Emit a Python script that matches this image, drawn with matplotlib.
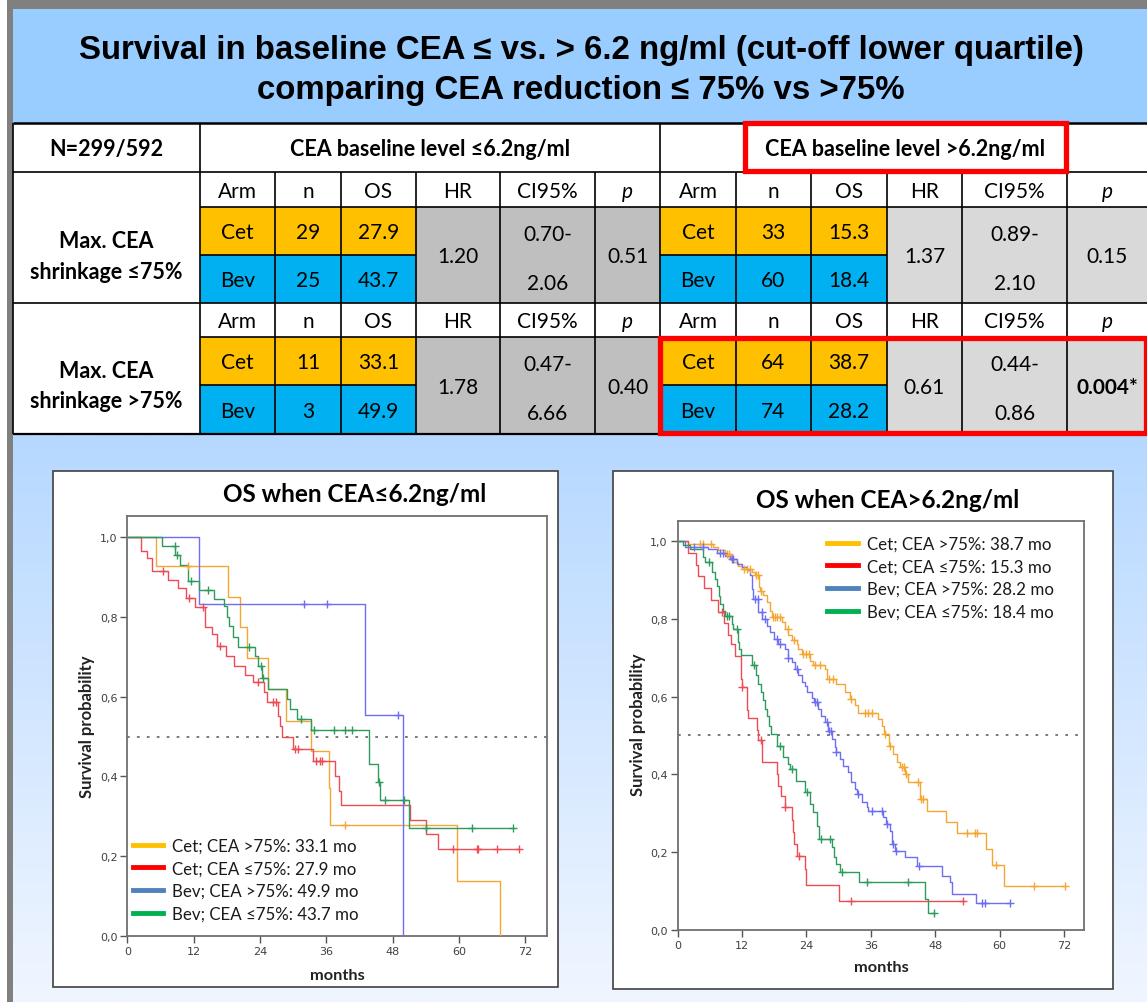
import numpy as np
import matplotlib
matplotlib.use("Agg")
import matplotlib.pyplot as plt
from matplotlib.patches import Rectangle
from matplotlib.lines import Line2D
from matplotlib.ticker import FuncFormatter

# ---------------- table data ----------------
arms = ["Cet", "Bev"]
col_headers = ["Arm", "n", "OS", "HR", "CI95%", "p"]
n_low_shr_le = [29, 25]
os_low_shr_le = [27.9, 43.7]
n_low_shr_gt = [11, 3]
os_low_shr_gt = [33.1, 49.9]
n_high_shr_le = [33, 60]
os_high_shr_le = [15.3, 18.4]
n_high_shr_gt = [64, 74]
os_high_shr_gt = [38.7, 28.2]
hr_low = ["1.20", "1.78"]
hr_high = ["1.37", "0.61"]
ci_low = [("0.70-", "2.06"), ("0.47-", "6.66")]
ci_high = [("0.89-", "2.10"), ("0.44-", "0.86")]
p_low = ["0.51", "0.40"]
p_high = ["0.15", "0.004*"]

# ---------------- KM data: left panel (CEA <= 6.2) ----------------
L_cet_gt_t = [0, 5.1, 18.3, 20.3, 21.6, 25.5, 28.7, 33.2, 36.4, 36.7, 59.6, 67.4]
L_cet_gt_s = [1.0, 0.928, 0.851, 0.774, 0.696, 0.619, 0.540, 0.464, 0.370, 0.278, 0.139, 0.0]
L_cet_gt_c = [10.9, 39.4]
L_cet_gt_end = 67.4

L_cet_le_t = [0, 2.4, 3.6, 4.4, 7.3, 9.2, 10.6, 12.2, 14.0, 15.3, 16.2, 17.8, 19.3, 21.3, 22.8,
              24.7, 25.2, 27.3, 27.7, 28.0, 29.9, 33.5, 37.6, 38.3, 38.7, 51.1, 54.1, 56.2]
L_cet_le_s = [1.0, 0.966, 0.948, 0.914, 0.893, 0.872, 0.848, 0.824, 0.774, 0.757, 0.728, 0.703,
              0.678, 0.654, 0.636, 0.611, 0.586, 0.552, 0.527, 0.498, 0.469, 0.439, 0.402, 0.364,
              0.328, 0.292, 0.256, 0.218]
L_cet_le_c = [6.5, 11.2, 13.6, 16.8, 23.6, 26.3, 26.9, 30.4, 30.9, 34.2, 34.8, 35.3,
              58.9, 63.2, 63.5, 66.9, 70.9]
L_cet_le_end = 70.9

L_bev_gt_t = [0, 13.0, 42.9, 49.9]
L_bev_gt_s = [1.0, 0.833, 0.554, 0.0]
L_bev_gt_c = [32.0, 36.2, 49.0]
L_bev_gt_end = 49.9

L_bev_le_t = [0, 6.2, 8.7, 9.6, 11.0, 13.0, 15.7, 17.4, 18.0, 18.4, 19.2, 20.1, 23.1, 23.7, 24.3,
              25.5, 28.8, 29.4, 30.6, 33.2, 43.8, 45.4, 45.7, 51.0]
L_bev_le_s = [1.0, 0.978, 0.955, 0.930, 0.890, 0.868, 0.845, 0.828, 0.800, 0.778, 0.749, 0.724,
              0.703, 0.677, 0.648, 0.620, 0.595, 0.570, 0.543, 0.517, 0.430, 0.385, 0.340, 0.270]
L_bev_le_c = [8.6, 9.0, 11.6, 14.6, 22.0, 24.1, 24.5, 31.4, 33.7, 37.3, 39.4, 40.6,
              45.6, 46.6, 50.0, 54.0, 62.3, 69.8]
L_bev_le_end = 69.8

# ---------------- KM data: right panel (CEA > 6.2) ----------------
R_cet_gt_t = [0, 2.0, 6.7, 7.6, 8.8, 10.0, 10.4, 11.3, 12.0, 13.8, 14.4, 15.1, 15.4, 16.0, 16.6,
              17.2, 17.6, 19.4, 20.0, 20.6, 21.3, 22.2, 22.5, 23.1, 24.7, 25.3, 27.5, 27.8, 29.6,
              31.2, 32.1, 33.0, 33.7, 37.4, 38.0, 38.5, 39.3, 40.2, 40.8, 41.5, 42.3, 42.9, 45.2,
              46.4, 50.0, 52.1, 57.5, 58.5, 60.8]
R_cet_gt_s = [1.0, 0.993, 0.984, 0.976, 0.967, 0.952, 0.945, 0.936, 0.928, 0.919, 0.911, 0.881,
              0.872, 0.860, 0.842, 0.821, 0.805, 0.791, 0.774, 0.757, 0.744, 0.735, 0.722, 0.710,
              0.692, 0.680, 0.671, 0.645, 0.632, 0.611, 0.594, 0.577, 0.557, 0.543, 0.525, 0.504,
              0.474, 0.452, 0.431, 0.418, 0.400, 0.380, 0.337, 0.307, 0.278, 0.249, 0.208, 0.167,
              0.112]
R_cet_gt_c = [4.1, 4.8, 6.2, 9.2, 9.6, 12.3, 12.9, 13.5, 14.6, 14.9, 15.6, 17.8, 18.2, 18.6, 19.1,
              20.5, 21.7, 23.4, 23.9, 24.4, 25.6, 26.5, 28.3, 29.0, 32.4, 34.9, 35.5, 36.2, 38.6,
              39.5, 41.8, 42.1, 42.6, 44.8, 45.4, 45.7, 53.9, 55.4, 55.7, 59.4, 66.3, 72.2]
R_cet_gt_end = 72.2

R_cet_le_t = [0, 2.0, 3.4, 3.9, 4.9, 6.3, 7.5, 8.7, 9.4, 10.0, 10.8, 11.8, 11.9, 12.0, 12.9, 13.0,
              13.1, 14.8, 15.0, 15.7, 15.8, 18.5, 18.8, 19.2, 20.0, 21.3, 21.5, 21.7, 22.2, 23.7,
              23.9, 30.0]
R_cet_le_s = [1.0, 0.970, 0.939, 0.909, 0.879, 0.848, 0.818, 0.788, 0.758, 0.735, 0.705, 0.675,
              0.645, 0.624, 0.590, 0.565, 0.545, 0.515, 0.487, 0.460, 0.431, 0.401, 0.371, 0.345,
              0.315, 0.283, 0.251, 0.221, 0.191, 0.157, 0.116, 0.075]
R_cet_le_c = [8.2, 12.1, 15.5, 20.1, 22.7, 32.4, 53.1]
R_cet_le_end = 53.1

R_bev_gt_t = [0, 1.4, 5.7, 7.3, 8.8, 9.8, 11.0, 12.0, 12.9, 13.5, 13.8, 14.1, 15.0, 15.8, 16.6,
              17.2, 18.0, 18.8, 20.0, 20.5, 21.3, 21.9, 22.5, 23.1, 23.7, 24.1, 25.0, 25.5, 26.2,
              26.8, 27.5, 28.1, 28.7, 29.4, 29.5, 30.3, 30.9, 31.8, 32.4, 33.1, 33.5, 34.3, 35.2,
              35.5, 38.3, 38.8, 39.6, 39.9, 40.5, 42.4, 44.6, 49.2, 50.7, 51.2, 55.6]
R_bev_gt_s = [1.0, 0.985, 0.979, 0.969, 0.960, 0.954, 0.941, 0.932, 0.926, 0.911, 0.877, 0.851,
              0.817, 0.800, 0.782, 0.765, 0.748, 0.735, 0.722, 0.700, 0.688, 0.671, 0.654, 0.637,
              0.628, 0.611, 0.595, 0.585, 0.568, 0.551, 0.534, 0.512, 0.490, 0.470, 0.457, 0.440,
              0.422, 0.405, 0.380, 0.362, 0.350, 0.330, 0.315, 0.307, 0.290, 0.272, 0.255, 0.221,
              0.204, 0.187, 0.165, 0.140, 0.123, 0.093, 0.069]
R_bev_gt_c = [3.0, 4.8, 7.9, 8.5, 10.1, 10.4, 14.4, 14.9, 15.7, 16.3, 18.5, 19.1, 20.6, 22.2,
              25.6, 25.9, 27.8, 28.3, 28.5, 29.6, 33.7, 36.2, 38.0, 39.1, 40.1, 40.7, 44.9,
              56.7, 57.3, 61.9]
R_bev_gt_end = 61.9

R_bev_le_t = [0, 1.1, 2.3, 4.8, 5.1, 6.4, 7.0, 7.3, 7.8, 8.0, 8.4, 8.8, 10.1, 10.4, 11.3, 11.5,
              11.8, 13.8, 14.6, 15.0, 15.5, 15.9, 16.3, 16.6, 17.0, 17.5, 18.5, 19.7, 20.6, 20.9,
              22.1, 23.7, 24.7, 25.3, 25.9, 26.4, 28.7, 29.1, 29.6, 30.3, 33.8, 46.1, 46.7]
R_bev_le_s = [1.0, 0.990, 0.979, 0.958, 0.945, 0.920, 0.902, 0.885, 0.859, 0.838, 0.821, 0.806,
              0.787, 0.774, 0.740, 0.722, 0.707, 0.680, 0.654, 0.632, 0.611, 0.590, 0.568, 0.551,
              0.525, 0.504, 0.474, 0.444, 0.427, 0.414, 0.384, 0.354, 0.324, 0.302, 0.268, 0.234,
              0.213, 0.187, 0.170, 0.150, 0.123, 0.080, 0.043]
R_bev_le_c = [5.9, 9.2, 9.6, 11.0, 14.2, 19.1, 21.4, 24.1, 26.8, 28.4, 30.6, 35.2, 43.0, 47.8]
R_bev_le_end = 47.8

left_labels = ["Cet; CEA >75%: 33.1 mo", "Cet; CEA \u226475%: 27.9 mo",
               "Bev; CEA >75%: 49.9 mo", "Bev; CEA \u226475%: 43.7 mo"]
right_labels = ["Cet; CEA >75%: 38.7 mo", "Cet; CEA \u226475%: 15.3 mo",
                "Bev; CEA >75%: 28.2 mo", "Bev; CEA \u226475%: 18.4 mo"]
x_ticks = [0, 12, 24, 36, 48, 60, 72]
y_ticks = [0.0, 0.2, 0.4, 0.6, 0.8, 1.0]

# ---------------- styles ----------------
curve_cols = ["#F4A833", "#EE4C55", "#6E6EF2", "#2E9A5C"]
legend_cols = ["#FFC000", "#FF0000", "#4F81BD", "#00B050"]
TF = ["Lato", "DejaVu Sans"]
C_CET = "#FFC000"
C_BEV = "#00B0F0"
C_GRAY_L = "#BFBFBF"
C_GRAY_R = "#D9D9D9"

W, H = 1147, 1003
fig = plt.figure(figsize=(W / 100, H / 100), dpi=100)
bg = fig.add_axes([0, 0, 1, 1])
bg.set_xlim(0, W)
bg.set_ylim(H, 0)
bg.axis("off")

# background gradient (lower part)
c_top = np.array([182, 216, 255]) / 255
c_bot = np.array([240, 246, 255]) / 255
g = np.linspace(0, 1, 256)[:, None, None]
grad = c_top[None, None, :] * (1 - g) + c_bot[None, None, :] * g
grad = np.repeat(grad, 2, axis=1)
bg.imshow(grad, extent=[12, W, H, 436], aspect="auto", zorder=0, interpolation="bilinear")

# borders
bg.add_patch(Rectangle((7, 0), W - 7, 10, color="#808080", zorder=1, lw=0))
bg.add_patch(Rectangle((7, 0), 6, H, color="#808080", zorder=1, lw=0))
# title band
bg.add_patch(Rectangle((13, 10), W - 13, 114, color="#99CCFF", zorder=1, lw=0))
bg.text(581, 50, "Survival in baseline CEA \u2264 vs. > 6.2 ng/ml (cut-off lower quartile)",
        ha="center", va="center", fontsize=23.8, fontweight="bold", family="Liberation Sans", zorder=3)
bg.text(581, 90, "comparing CEA reduction \u2264 75% vs >75%",
        ha="center", va="center", fontsize=23.8, fontweight="bold", family="Liberation Sans", zorder=3)

# ---------------- table ----------------
bg.add_patch(Rectangle((13, 124), W - 13, 312, color="white", zorder=1, lw=0))
cols_left = [200, 275, 341, 416, 500, 595, 660]
cols_right = [660, 736, 811, 887, 962, 1067, 1147]
rows = [124, 173, 208, 256, 304, 338, 386, 435]
LW = 1.2
FS = 15
FSB = 15.5


def hline(y, x0, x1, lw=LW):
    bg.plot([x0, x1], [y, y], color="black", lw=lw, zorder=4, solid_capstyle="butt")


def vline(x, y0, y1, lw=LW):
    bg.plot([x, x], [y0, y1], color="black", lw=lw, zorder=4, solid_capstyle="butt")


def cell_text(x, y, s, **kw):
    bg.text(x, y, s, ha="center", va="center", fontsize=FS, family=TF, zorder=5, **kw)


def block(cols, k, n_vals, os_vals, hr, ci, p, gray, p_bold=False):
    yh0, yc0, yb0, ye = rows[1 + 3 * k], rows[2 + 3 * k], rows[3 + 3 * k], rows[4 + 3 * k]
    bg.add_patch(Rectangle((cols[0], yc0), cols[3] - cols[0], yb0 - yc0, color=C_CET, zorder=2, lw=0))
    bg.add_patch(Rectangle((cols[0], yb0), cols[3] - cols[0], ye - yb0, color=C_BEV, zorder=2, lw=0))
    bg.add_patch(Rectangle((cols[3], yc0), cols[6] - cols[3], ye - yc0, color=gray, zorder=2, lw=0))
    for i, h in enumerate(col_headers):
        xc = (cols[i] + cols[i + 1]) / 2
        cell_text(xc, (yh0 + yc0) / 2 + 1, h, style="italic" if h == "p" else "normal")
    ymc = (yc0 + yb0) / 2 + 1
    ymb = (yb0 + ye) / 2 + 1
    for r, yy in enumerate([ymc, ymb]):
        cell_text((cols[0] + cols[1]) / 2, yy, arms[r])
        cell_text((cols[1] + cols[2]) / 2, yy, str(n_vals[r]))
        cell_text((cols[2] + cols[3]) / 2, yy, f"{os_vals[r]:.1f}")
    ymid = (yc0 + ye) / 2 + 1
    cell_text((cols[3] + cols[4]) / 2, ymid, hr)
    cell_text((cols[4] + cols[5]) / 2, ymc + 2, ci[0])
    cell_text((cols[4] + cols[5]) / 2, ymb + 3, ci[1])
    cell_text((cols[5] + cols[6]) / 2, ymid, p, fontweight="bold" if p_bold else "normal")
    hline(yc0, cols[0], cols[6])
    hline(yb0, cols[0], cols[3])
    for x in cols[1:6]:
        vline(x, yh0, ye)


block(cols_left, 0, n_low_shr_le, os_low_shr_le, hr_low[0], ci_low[0], p_low[0], C_GRAY_L)
block(cols_left, 1, n_low_shr_gt, os_low_shr_gt, hr_low[1], ci_low[1], p_low[1], C_GRAY_L)
block(cols_right, 0, n_high_shr_le, os_high_shr_le, hr_high[0], ci_high[0], p_high[0], C_GRAY_R)
block(cols_right, 1, n_high_shr_gt, os_high_shr_gt, hr_high[1], ci_high[1], p_high[1], C_GRAY_R,
      p_bold=True)

hline(124, 13, W, lw=1.8)
hline(173, 13, W)
hline(304, 13, W)
hline(435, 13, W, lw=1.6)
vline(13, 124, 435)
vline(200, 124, 435)
vline(660, 124, 435)

bg.text(106, 149, "N=299/592", ha="center", va="center", fontsize=FSB, fontweight="bold", family=TF, zorder=5)
bg.text(430, 149, "CEA baseline level \u22646.2ng/ml", ha="center", va="center", fontsize=FSB,
        fontweight="bold", family=TF, zorder=5)
bg.text(905, 149, "CEA baseline level >6.2ng/ml", ha="center", va="center", fontsize=FSB,
        fontweight="bold", family=TF, zorder=5)
for yc, lab in [(256, "\u226475%"), (386, ">75%")]:
    bg.text(106, yc - 15, "Max. CEA", ha="center", va="center", fontsize=FSB, fontweight="bold",
            family=TF, zorder=5)
    bg.text(106, yc + 16, "shrinkage " + lab, ha="center", va="center", fontsize=FSB,
            fontweight="bold", family=TF, zorder=5)

# red highlight boxes
bg.add_patch(Rectangle((745, 124), 321, 48, fill=False, ec="#FF0000", lw=3.8, zorder=6))
bg.add_patch(Rectangle((660, 339), 486, 95, fill=False, ec="#FF0000", lw=3.8, zorder=6))

# ---------------- KM panels ----------------
bg.add_patch(Rectangle((53, 472), 505, 516, facecolor="white", edgecolor="#404040", lw=1.2, zorder=2))
bg.add_patch(Rectangle((613, 472), 500, 518, facecolor="white", edgecolor="#404040", lw=1.2, zorder=2))


def px_axes(x0, y0, x1, y1):
    return fig.add_axes([x0 / W, 1 - y1 / H, (x1 - x0) / W, (y1 - y0) / H])


def step_at(ts, ss, c):
    i = np.searchsorted(np.asarray(ts), c, side="right") - 1
    return np.asarray(ss)[i]


def km_panel(ax, curves, xmax, ymax):
    ax.set_facecolor("none")
    for (ts, ss, cs, end), col in zip(curves, curve_cols):
        tt = list(ts) + [end]
        sv = list(ss) + [ss[-1]]
        ax.step(tt, sv, where="post", color=col, lw=1.0, zorder=3)
        cy = [step_at(ts, ss, c) for c in cs]
        ax.plot(cs, cy, ls="none", marker="+", ms=6, mew=1.0, color=col, zorder=4)
    ax.axhline(0.5, color="#707070", ls=(0, (1.5, 4)), lw=1.3, zorder=2)
    ax.set_xlim(0, xmax)
    ax.set_ylim(0, ymax)
    ax.set_xticks(x_ticks)
    ax.set_yticks(y_ticks)
    ax.yaxis.set_major_formatter(FuncFormatter(lambda v, p: f"{v:.1f}".replace(".", ",")))
    ax.tick_params(direction="out", length=5, width=1.0, color="#555555", labelsize=8,
                   labelcolor="#404040", pad=2)
    for sp in ax.spines.values():
        sp.set_color("#707070")
        sp.set_linewidth(1.3)


axL = px_axes(127.3, 517, 547, 937)
km_panel(axL, [(L_cet_gt_t, L_cet_gt_s, L_cet_gt_c, L_cet_gt_end),
               (L_cet_le_t, L_cet_le_s, L_cet_le_c, L_cet_le_end),
               (L_bev_gt_t, L_bev_gt_s, L_bev_gt_c, L_bev_gt_end),
               (L_bev_le_t, L_bev_le_s, L_bev_le_c, L_bev_le_end)], 75.9, 1.053)
axR = px_axes(677.5, 522, 1084, 931)
km_panel(axR, [(R_cet_gt_t, R_cet_gt_s, R_cet_gt_c, R_cet_gt_end),
               (R_cet_le_t, R_cet_le_s, R_cet_le_c, R_cet_le_end),
               (R_bev_gt_t, R_bev_gt_s, R_bev_gt_c, R_bev_gt_end),
               (R_bev_le_t, R_bev_le_s, R_bev_le_c, R_bev_le_end)], 75.7, 1.051)

handles = [Line2D([], [], color=c, lw=3.5) for c in legend_cols]
LEG_KW = dict(loc="upper left", frameon=False, handlelength=1.78, handletextpad=0.55,
              labelspacing=0.39, borderpad=0, borderaxespad=0, prop={"family": TF, "size": 12.2})
legL = axL.legend(handles, left_labels, bbox_to_anchor=(0.0136, 0.234), **LEG_KW)
legR = axR.legend(handles, right_labels, bbox_to_anchor=(0.369, 0.964), **LEG_KW)
for lg in (legL, legR):
    for t in lg.get_texts():
        t.set_color("#1a1a1a")

# panel titles and axis labels
bg.text(355, 495, "OS when CEA\u22646.2ng/ml", ha="center", va="center", fontsize=17.5,
        fontweight="bold", family=TF, zorder=5)
bg.text(888, 500, "OS when CEA>6.2ng/ml", ha="center", va="center", fontsize=17.5,
        fontweight="bold", family=TF, zorder=5)
bg.text(87, 727, "Survival probability", ha="center", va="center", rotation=90, fontsize=12,
        fontweight="bold", family=TF, zorder=5, color="#222222")
bg.text(638, 725, "Survival probability", ha="center", va="center", rotation=90, fontsize=12,
        fontweight="bold", family=TF, zorder=5, color="#222222")
bg.text(337, 976, "months", ha="center", va="center", fontsize=11.8, fontweight="bold",
        family=TF, zorder=5, color="#222222")
bg.text(881, 968, "months", ha="center", va="center", fontsize=11.8, fontweight="bold",
        family=TF, zorder=5, color="#222222")

fig.savefig("out.png", dpi=100)
